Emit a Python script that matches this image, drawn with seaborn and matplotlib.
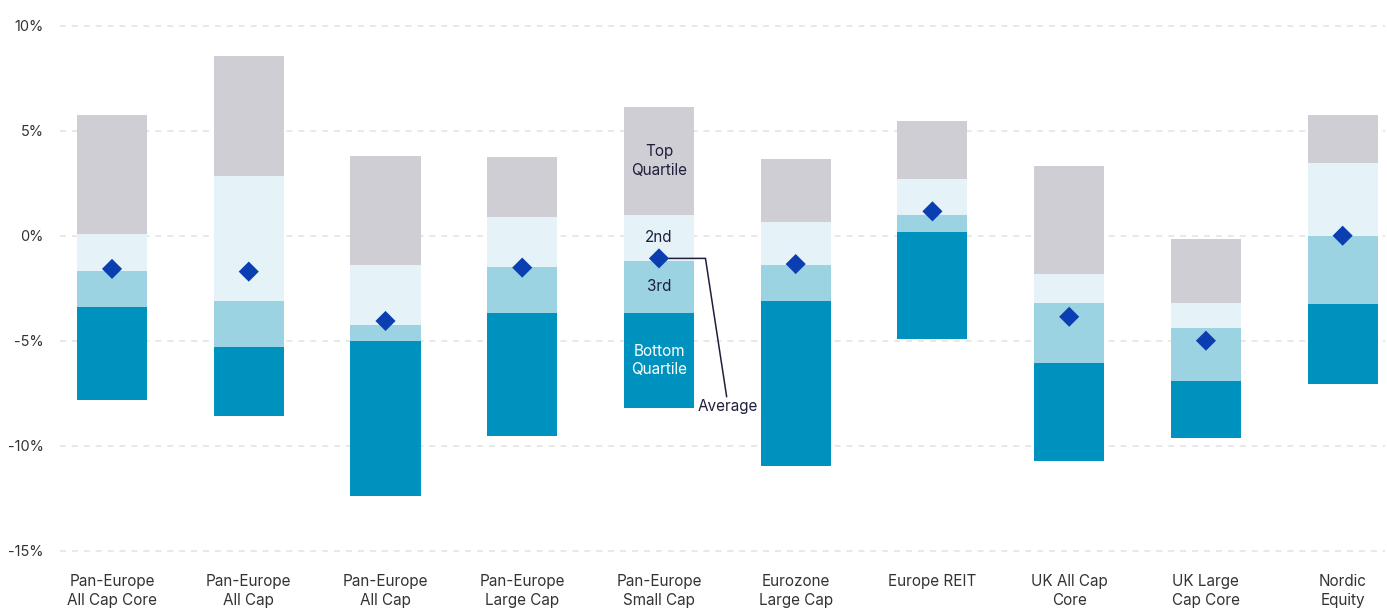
import matplotlib
matplotlib.use("Agg")
import matplotlib.pyplot as plt
import seaborn as sns
import pandas as pd

# Category labels (x axis)
categories = [
    "Pan-Europe\nAll Cap Core", "Pan-Europe\nAll Cap", "Pan-Europe\nAll Cap",
    "Pan-Europe\nLarge Cap", "Pan-Europe\nSmall Cap", "Eurozone\nLarge Cap",
    "Europe REIT", "UK All Cap\nCore", "UK Large\nCap Core", "Nordic\nEquity",
]

# Return distribution per category (%)
q_max = [5.73, 8.55, 3.80, 3.75, 6.13, 3.65, 5.46, 3.32, -0.16, 5.75]
q_upper = [0.10, 2.86, -1.40, 0.89, 0.99, 0.65, 2.70, -1.82, -3.20, 3.46]
q_median = [-1.67, -3.10, -4.25, -1.49, -1.20, -1.40, 0.99, -3.20, -4.39, 0.00]
q_lower = [-3.39, -5.30, -5.01, -3.68, -3.68, -3.11, 0.18, -6.06, -6.92, -3.25]
q_min = [-7.81, -8.59, -12.38, -9.52, -8.22, -10.95, -4.90, -10.71, -9.62, -7.05]
average = [-1.58, -1.71, -4.06, -1.52, -1.08, -1.35, 1.16, -3.86, -5.00, 0.00]

y_ticks = [10, 5, 0, -5, -10, -15]
y_tick_labels = ["10%", "5%", "0%", "-5%", "-10%", "-15%"]

segment_names = ["Bottom\nQuartile", "3rd", "2nd", "Top\nQuartile"]
segment_colors = ["#0092be", "#9cd3e3", "#e5f2f7", "#cfced4"]
segment_text_colors = ["white", "#1f1f3d", "#1f1f3d", "#1f1f3d"]
labelled_index = 4  # category whose bar carries the segment labels

sns.set_theme(style="white")
plt.rcParams["font.family"] = ["Inter", "DejaVu Sans"]

fig = plt.figure(figsize=(13.87, 6.09), dpi=100)
ax = fig.add_axes([0.0433, 0.0785, 0.9553, 0.8965])

x_pos = list(range(len(categories)))
bounds = [q_min, q_lower, q_median, q_upper, q_max]
bar_width = 0.512

for s in range(4):
    lo = bounds[s]
    hi = bounds[s + 1]
    heights = [h - l for h, l in zip(hi, lo)]
    ax.bar(x_pos, heights, bottom=lo, width=bar_width,
           color=segment_colors[s], linewidth=0, zorder=2)
    mid = (lo[labelled_index] + hi[labelled_index]) / 2
    ax.text(labelled_index, mid, segment_names[s], ha="center", va="center",
            fontsize=11, color=segment_text_colors[s], zorder=4,
            linespacing=1.3)

avg_df = pd.DataFrame({"x": x_pos, "average": average})
sns.scatterplot(data=avg_df, x="x", y="average", marker="D", s=105,
                color="#0b3fb1", edgecolor="none", linewidth=0, zorder=5,
                ax=ax, legend=False)

# Leader line for the "Average" callout
ax_avg = average[labelled_index]
ax.plot([labelled_index + 0.07, labelled_index + 0.34, labelled_index + 0.495],
        [ax_avg, ax_avg, -7.67], color="#1f1f3d", lw=1.1, zorder=3,
        solid_joinstyle="miter")
ax.text(labelled_index + 0.5, -8.15, "Average", ha="center", va="center",
        fontsize=11, color="#1f1f3d", zorder=4)

ax.set_xlim(-0.38, 9.31)
ax.set_ylim(-15.5, 10.5)
ax.set_xticks(x_pos)
ax.set_xticklabels(categories, fontsize=11, color="#333333",
                   linespacing=1.33)
ax.set_yticks(y_ticks)
ax.set_yticklabels(y_tick_labels, fontsize=10.5, color="#333333")
ax.tick_params(axis="both", length=0)
ax.tick_params(axis="y", pad=12)
ax.tick_params(axis="x", pad=9.5)

ax.yaxis.grid(True, color="#e6e6e6", lw=1.3, linestyle=(0, (3.3, 3.3)))
ax.xaxis.grid(False)
ax.set_axisbelow(True)
for spine in ax.spines.values():
    spine.set_visible(False)
ax.set_xlabel("")
ax.set_ylabel("")

fig.savefig("out.png", dpi=100, facecolor="white")
